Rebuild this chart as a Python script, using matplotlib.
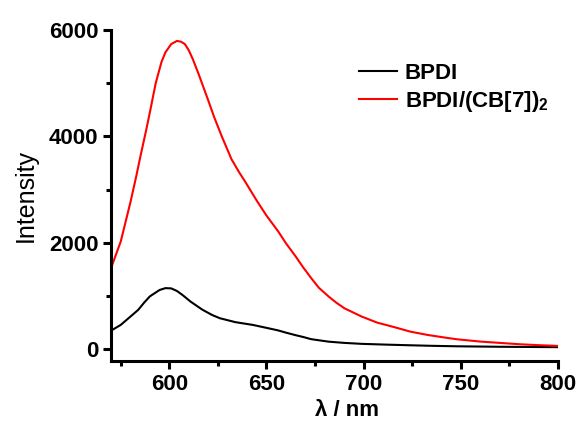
import matplotlib.pyplot as plt
from matplotlib.ticker import MultipleLocator

plt.rcParams['font.family'] = ['Liberation Sans', 'DejaVu Sans']
plt.rcParams['mathtext.fontset'] = 'custom'
plt.rcParams['mathtext.bf'] = 'Liberation Sans:bold'

# wavelength (nm) / intensity
wl_bpdi = [570, 575, 580, 584, 587, 590, 595, 598, 601, 604, 607, 611, 617, 622, 626,
           634, 643, 651, 656, 660, 665, 669, 673, 682, 690, 699, 712, 724, 735, 748,
           770, 800]
int_bpdi = [345, 453, 610, 736, 870, 990, 1110, 1145, 1140, 1090, 1010, 890, 740, 640, 579,
            505, 453, 390, 350, 308, 260, 225, 185, 138, 115, 97, 82, 70, 60, 51,
            42, 35]

wl_cb7 = [570, 575, 580, 583, 585, 588, 590, 593, 596, 598, 601, 604, 606, 608, 610,
          612, 615, 617, 620, 623, 627, 632, 636, 639, 645, 650, 656, 660, 665, 669,
          673, 677, 682, 686, 690, 695, 699, 707, 716, 724, 733, 742, 748, 760, 770,
          780, 790, 800]
int_cb7 = [1520, 2020, 2760, 3250, 3600, 4100, 4450, 5000, 5400, 5580, 5736, 5795, 5780, 5736, 5620,
           5460, 5180, 4980, 4680, 4370, 4000, 3570, 3320, 3150, 2790, 2510, 2214, 1990, 1742, 1530,
           1334, 1150, 987, 870, 768, 680, 610, 496, 409, 327, 264, 214, 183, 140, 115,
           90, 72, 58]

fig = plt.figure(figsize=(5.79, 4.22), dpi=100)
ax = fig.add_axes([0.1917, 0.1445, 0.772, 0.7844])

ax.plot(wl_bpdi, int_bpdi, color='black', linewidth=1.5, label='BPDI')
ax.plot(wl_cb7, int_cb7, color='red', linewidth=1.5, label=r'BPDI/(CB[7])$_\mathbf{2}$')

ax.set_xlim(570, 800)
ax.set_ylim(-226, 6000)
ax.xaxis.set_major_locator(MultipleLocator(50))
ax.xaxis.set_minor_locator(MultipleLocator(25))
ax.yaxis.set_major_locator(MultipleLocator(2000))
ax.yaxis.set_minor_locator(MultipleLocator(1000))

for s in ['top', 'right']:
    ax.spines[s].set_visible(False)
for s in ['left', 'bottom']:
    ax.spines[s].set_linewidth(2.2)

ax.tick_params(which='major', direction='out', length=6, width=2.2, labelsize=16, pad=3)
ax.tick_params(which='minor', direction='out', length=3.5, width=2.2)
for lab in ax.get_xticklabels() + ax.get_yticklabels():
    lab.set_fontweight('bold')

ax.set_xlabel('λ / nm', fontsize=16, fontweight='bold', labelpad=4)
ax.xaxis.label.set_x(0.527)
ax.set_ylabel('Intensity', fontsize=18, labelpad=8)

leg = ax.legend(loc='upper left', bbox_to_anchor=(0.555, 0.90), frameon=False,
                prop={'size': 16, 'weight': 'bold'}, handlelength=1.7,
                handletextpad=0.35, borderpad=0, borderaxespad=0, labelspacing=0.2)

plt.savefig('out.png', dpi=100)
